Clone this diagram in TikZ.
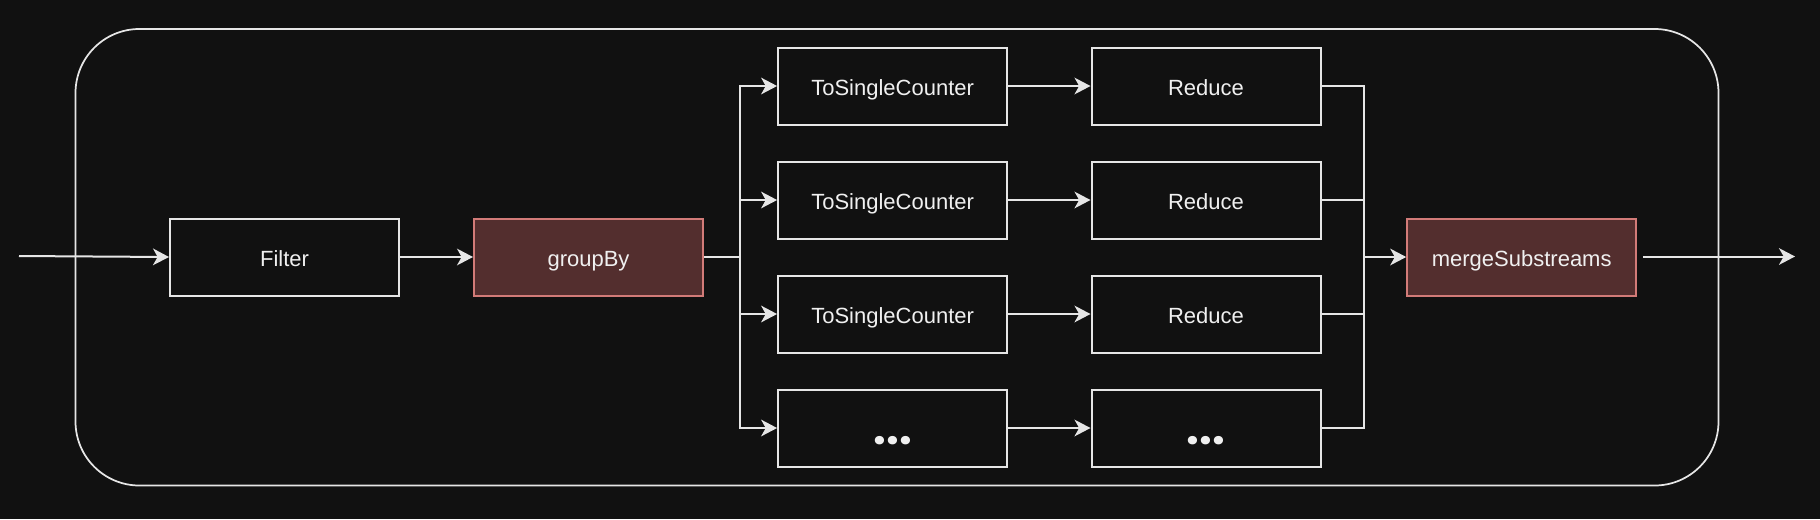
\documentclass[tikz,border=0pt]{standalone}
\usepackage{fontspec}
\setmainfont{Liberation Sans}
\newfontfamily\dotfont{Poppins}
\usetikzlibrary{arrows.meta}
\definecolor{bg}{HTML}{111111}
\definecolor{fg}{HTML}{E6E6E6}
\definecolor{txt}{HTML}{F0F0F0}
\definecolor{redfill}{HTML}{532E2E}
\definecolor{redline}{HTML}{D27B78}
\begin{document}
\begin{tikzpicture}[x=0.75pt,y=-0.75pt,
  box/.style={draw=fg, line width=1.5pt, fill=bg, minimum width=171.75pt, minimum height=57.75pt,
    inner sep=0pt, text=txt, font=\fontsize{16.5pt}{19.8pt}\selectfont, text height=17.8pt, text depth=3pt},
  redbox/.style={box, fill=redfill, draw=redline},
  dotsbox/.style={box, font=\dotfont\bfseries\fontsize{34pt}{40pt}\selectfont, text height=30pt, text depth=5.5pt},
  arr/.style={draw=fg, line width=1.5pt, -{Stealth[length=12pt,width=12.5pt,inset=3.5pt]}},
  conn/.style={draw=fg, line width=1.5pt}]
\fill[bg] (0,0) rectangle (1820,519);
\useasboundingbox (0,0) rectangle (1820,519);
\node[draw=fg, line width=1.3pt, rounded corners=48pt, minimum width=1232.25pt, minimum height=342.4pt, inner sep=0pt] (frame) at (897,257.25) {};

\node[box] (filter) at (284.5,257) {Filter};
\node[redbox] (group) at (588.5,257) {groupBy};
\node[box] (t1) at (892.6,86) {ToSingleCounter};
\node[box] (t2) at (892.6,200) {ToSingleCounter};
\node[box] (t3) at (892.6,314) {ToSingleCounter};
\node[dotsbox] (t4) at (892.6,428) {...};
\node[box] (r1) at (1206,86) {Reduce};
\node[box] (r2) at (1206,200) {Reduce};
\node[box] (r3) at (1206,314) {Reduce};
\node[dotsbox] (r4) at (1206,428) {...};
\node[redbox] (merge) at (1521.7,257) {mergeSubstreams};

\coordinate (src) at (19,256);
\coordinate (split) at (740,257);
\coordinate (join) at (1364,257);
\coordinate (outstart) at (1643,256.5);
\coordinate (outend) at (1795,256.5);

\draw[arr] (src) -- (filter.west);
\draw[arr] (filter) -- (group);
\draw[conn] (group.east) -- (split);
\foreach \i in {1,2,3,4}{
  \draw[arr] (split) |- (t\i.west);
  \draw[arr] (t\i) -- (r\i);
  \draw[conn] (r\i.east) -| (join);
}
\draw[arr] (join) -- (merge.west);
\draw[arr] (outstart) -- (outend);
\end{tikzpicture}
\end{document}
